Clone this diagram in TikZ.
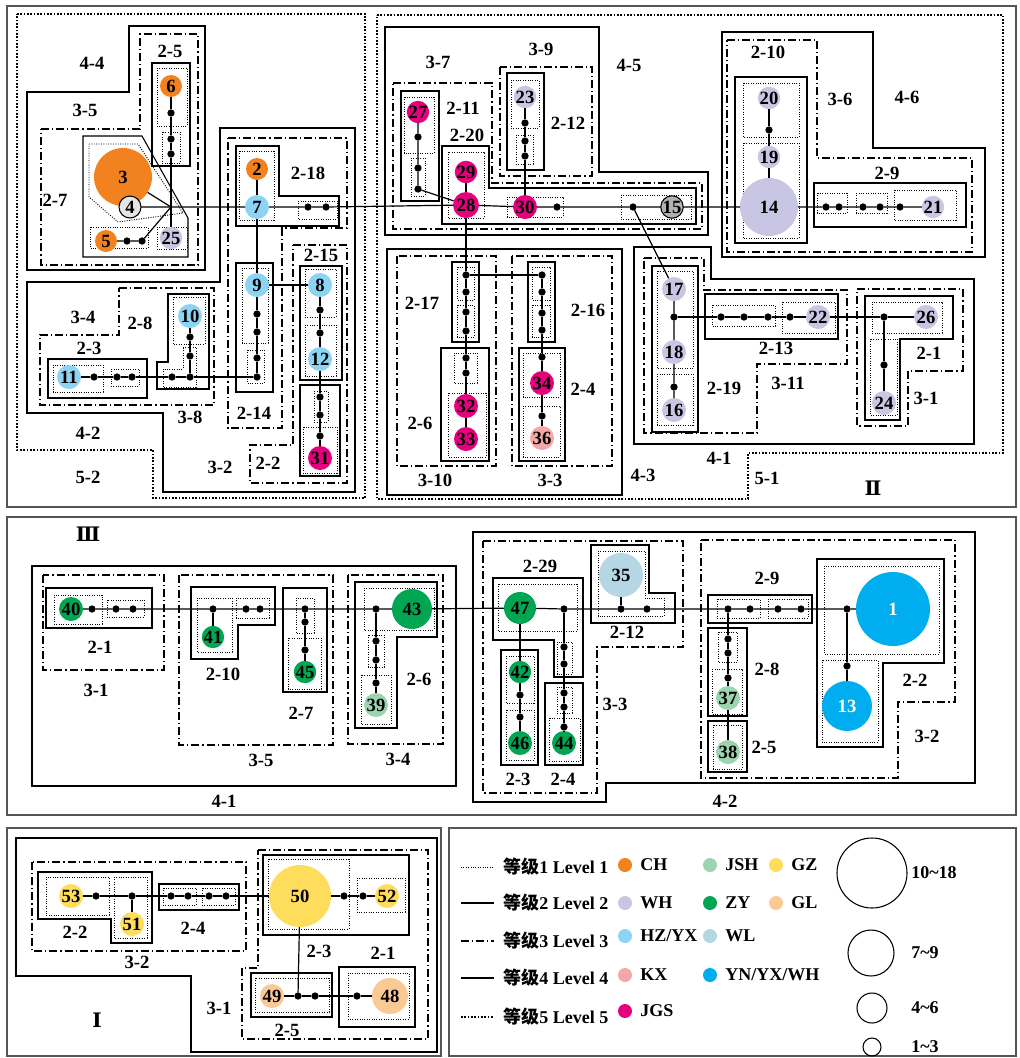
\documentclass[tikz,border=0pt]{standalone}
\usepackage{fontspec}
\setmainfont{Liberation Serif}
\newfontfamily\cjk{Noto Sans CJK SC}
\newfontfamily\romf{DejaVu Serif}
\newcommand\labf{\fontsize{14}{15}\selectfont\bfseries}
\newcommand\numf{\fontsize{14}{15}\selectfont\bfseries}
\newcommand\legf{\fontsize{13.5}{15}\selectfont\bfseries}
\definecolor{cCH}{HTML}{F28220}
\definecolor{cWH}{HTML}{C8C6E2}
\definecolor{cHZ}{HTML}{8DD3F4}
\definecolor{cKX}{HTML}{F4A7A7}
\definecolor{cJGS}{HTML}{E6007E}
\definecolor{cJSH}{HTML}{9CD4B0}
\definecolor{cZY}{HTML}{00A651}
\definecolor{cWL}{HTML}{B4D7E3}
\definecolor{cYN}{HTML}{00AEEF}
\definecolor{cGZ}{HTML}{FFDD5C}
\definecolor{cGL}{HTML}{FBC994}
\definecolor{cPanel}{HTML}{555555}
\tikzset{
  lvone/.style={line width=0.7pt, dash pattern=on 0.7pt off 1.1pt},
  lvtwo/.style={line width=0.8pt},
  lvthree/.style={line width=0.8pt, dash pattern=on 6pt off 2.2pt on 1pt off 2.2pt},
  lvfour/.style={line width=1.8pt},
  lvfive/.style={line width=1.6pt, dash pattern=on 1.3pt off 1.2pt},
  panel/.style={line width=1pt, draw=cPanel},
  conn/.style={line width=0.9pt},
  jdot/.style={circle,fill=black,inner sep=0pt,outer sep=0pt,minimum size=5.5pt},
  cn/.style={circle,inner sep=0pt,outer sep=0pt,minimum size=#1*1.5pt,font=\numf},
  rlab/.style={font=\labf,inner sep=0pt},
  legt/.style={font=\legf,inner sep=0pt,anchor=west},
}
\begin{document}
\begin{tikzpicture}[x=0.75pt,y=-0.75pt]
\useasboundingbox (0,0) rectangle (1020,1058);
% panels
\draw[panel] (7,6) rectangle (1016,507);
\draw[panel] (7,517) rectangle (1016,815);
\draw[panel] (7,828) rectangle (441,1056);
\draw[panel] (449,828) rectangle (1016,1056);

%================ TOP PANEL =================
% 5-2
\draw[lvfive] (17,14) -- (365,14) -- (365,498) -- (153,498) -- (153,450) -- (17,450) -- cycle;
% 4-4
\draw[lvfour] (27,92) -- (129,92) -- (129,26) -- (205,26) -- (205,270) -- (27,270) -- cycle;
\draw[lvthree] (41,129) -- (140,129) -- (140,34) -- (198,34) -- (198,265) -- (41,265) -- cycle;
\draw[lvtwo] (152,63) rectangle (190,166);
\draw[lvone] (157,68) rectangle (187,126);
\draw[lvone] (162,132) rectangle (180,163);
\draw[lvtwo] (83,136) -- (142,136) -- (188,218) -- (188,257) -- (83,257) -- cycle;
\draw[lvone] (89,144) -- (138,144) -- (183,213) -- (118,222) -- (89,197) -- cycle;
\draw[lvone] (90,227) rectangle (148,248);
\draw[lvone] (157,227) rectangle (187,249);
% 4-2
\draw[lvfour] (220,128) -- (355,128) -- (355,492) -- (163,492) -- (163,413) -- (27,413) -- (27,282) -- (220,282) -- cycle;
\draw[lvthree] (228,138) -- (347,138) -- (347,228) -- (282,228) -- (282,428) -- (228,428) -- cycle;
\draw[lvthree] (293,245) -- (347,245) -- (347,483) -- (250,483) -- (250,445) -- (293,445) -- cycle;
\draw[lvtwo] (236,146) -- (279,146) -- (279,196) -- (339,196) -- (339,226) -- (236,226) -- cycle;
\draw[lvone] (239,151) rectangle (274,220);
\draw[lvone] (298,201) rectangle (337,219);
\draw[lvtwo] (236,263) rectangle (273,392);
\draw[lvone] (242,268) rectangle (268,343);
\draw[lvone] (247,350) rectangle (264,383);
\draw[lvtwo] (300,266) rectangle (342,380);
\draw[lvone] (305,269) rectangle (336,317);
\draw[lvone] (305,325) rectangle (336,376);
\draw[lvtwo] (300,385) rectangle (340,476);
\draw[lvone] (314,391) rectangle (328,422);
\draw[lvone] (303,427) rectangle (337,473);
\draw[lvthree] (119,288) -- (214,288) -- (214,405) -- (40,405) -- (40,335) -- (119,335) -- cycle;
\draw[lvtwo] (48,359) rectangle (147,398);
\draw[lvone] (53,365) rectangle (103,392);
\draw[lvone] (111,369) rectangle (139,386);
\draw[lvtwo] (168,294) -- (209,294) -- (209,389) -- (157,389) -- (157,362) -- (168,362) -- cycle;
\draw[lvone] (173,297) rectangle (205,344);
\draw[lvone] (183,347) -- (196,347) -- (196,387) -- (163,387) -- (163,369) -- (183,369) -- cycle;
% 5-1
\draw[lvfive] (377,15) -- (1003,15) -- (1003,453) -- (748,453) -- (748,499) -- (377,499) -- cycle;
% 4-5
\draw[lvfour] (385,27) -- (599,27) -- (599,172) -- (708,172) -- (708,235) -- (385,235) -- cycle;
\draw[lvthree] (393,83) -- (492,83) -- (492,183) -- (702,183) -- (702,229) -- (393,229) -- cycle;
\draw[lvthree] (500,67) rectangle (592,176);
\draw[lvtwo] (401,91) rectangle (439,201);
\draw[lvone] (404,97) rectangle (434,153);
\draw[lvone] (411,158) rectangle (425,196);
\draw[lvtwo] (442,146) -- (489,146) -- (489,188) -- (696,188) -- (696,224) -- (442,224) -- cycle;
\draw[lvone] (448,152) rectangle (484,218);
\draw[lvone] (507,197) rectangle (563,217);
\draw[lvone] (621,195) rectangle (691,219);
\draw[lvtwo] (507,73) rectangle (544,170);
\draw[lvone] (511,80) rectangle (539,128);
\draw[lvone] (516,135) rectangle (533,164);
% 4-6
\draw[lvfour] (722,32) -- (873,32) -- (873,148) -- (985,148) -- (985,257) -- (722,257) -- cycle;
\draw[lvthree] (727,40) -- (817,40) -- (817,158) -- (972,158) -- (972,252) -- (727,252) -- cycle;
\draw[lvtwo] (735,77) rectangle (807,243);
\draw[lvone] (743,83) rectangle (799,137);
\draw[lvone] (743,143) rectangle (799,238);
\draw[lvtwo] (814,183) rectangle (966,227);
\draw[lvone] (817,193) rectangle (847,213);
\draw[lvone] (856,193) rectangle (887,213);
\draw[lvone] (894,190) rectangle (956,220);
% 4-3
\draw[lvfour] (387,249) rectangle (622,495);
\draw[lvthree] (397,256) rectangle (496,466);
\draw[lvthree] (512,256) rectangle (612,466);
\draw[lvtwo] (452,262) rectangle (479,342);
\draw[lvone] (457,267) rectangle (474,300);
\draw[lvone] (457,305) rectangle (474,337);
\draw[lvtwo] (441,348) rectangle (489,461);
\draw[lvone] (454,353) rectangle (477,383);
\draw[lvone] (448,393) rectangle (486,457);
\draw[lvtwo] (528,262) rectangle (555,342);
\draw[lvone] (532,267) rectangle (550,300);
\draw[lvone] (532,305) rectangle (550,337);
\draw[lvtwo] (519,348) rectangle (565,461);
\draw[lvone] (523,353) rectangle (560,397);
\draw[lvone] (523,406) rectangle (560,457);
% 4-1 (top)
\draw[lvfour] (634,247) -- (711,247) -- (711,279) -- (974,279) -- (974,444) -- (634,444) -- cycle;
\draw[lvthree] (644,258) -- (704,258) -- (704,290) -- (847,290) -- (847,364) -- (757,364) -- (757,433) -- (644,433) -- cycle;
\draw[lvthree] (857,289) -- (963,289) -- (963,371) -- (908,371) -- (908,426) -- (857,426) -- cycle;
\draw[lvtwo] (652,266) rectangle (698,432);
\draw[lvone] (657,271) rectangle (693,368);
\draw[lvone] (657,374) rectangle (693,425);
\draw[lvtwo] (705,294) rectangle (838,339);
\draw[lvone] (712,305) rectangle (775,326);
\draw[lvone] (782,302) rectangle (835,333);
\draw[lvtwo] (865,296) -- (953,296) -- (953,339) -- (900,339) -- (900,420) -- (865,420) -- cycle;
\draw[lvone] (872,302) rectangle (942,333);
\draw[lvone] (870,339) rectangle (897,415);

%================ MIDDLE PANEL =================
\draw[lvfour] (32,566) rectangle (456,786);
\draw[lvthree] (43,575) rectangle (164,670);
\draw[lvtwo] (46,588) rectangle (152,628);
\draw[lvone] (54,595) rectangle (102,624);
\draw[lvone] (107,600) rectangle (144,617);
\draw[lvthree] (179,575) rectangle (333,745);
\draw[lvtwo] (191,587) -- (275,587) -- (275,625) -- (238,625) -- (238,659) -- (191,659) -- cycle;
\draw[lvone] (197,598) rectangle (232,652);
\draw[lvone] (236,598) rectangle (269,618);
\draw[lvtwo] (283,588) rectangle (327,692);
\draw[lvone] (296,598) rectangle (314,633);
\draw[lvone] (288,638) rectangle (321,689);
\draw[lvthree] (348,575) rectangle (443,744);
\draw[lvtwo] (355,582) -- (437,582) -- (437,637) -- (397,637) -- (397,728) -- (355,728) -- cycle;
\draw[lvone] (364,588) rectangle (434,630);
\draw[lvone] (368,635) rectangle (384,667);
\draw[lvone] (361,675) rectangle (391,724);
\draw[lvfour] (473,532) -- (975,532) -- (975,783) -- (606,783) -- (606,802) -- (473,802) -- cycle;
\draw[lvthree] (483,541) -- (683,541) -- (683,647) -- (597,647) -- (597,793) -- (483,793) -- cycle;
\draw[lvtwo] (493,578) -- (583,578) -- (583,677) -- (554,677) -- (554,640) -- (493,640) -- cycle;
\draw[lvone] (498,584) rectangle (577,631);
\draw[lvone] (557,642) rectangle (572,674);
\draw[lvtwo] (501,650) rectangle (538,765);
\draw[lvone] (506,656) rectangle (534,703);
\draw[lvone] (506,710) rectangle (534,760);
\draw[lvtwo] (545,683) rectangle (583,765);
\draw[lvone] (557,687) rectangle (572,713);
\draw[lvone] (549,718) rectangle (580,761);
\draw[lvtwo] (591,545) -- (649,545) -- (649,593) -- (675,593) -- (675,623) -- (591,623) -- cycle;
\draw[lvone] (598,551) -- (645,551) -- (645,598) -- (664,598) -- (664,616) -- (598,616) -- cycle;
\draw[lvthree] (701,540) -- (955,540) -- (955,702) -- (898,702) -- (898,778) -- (701,778) -- cycle;
\draw[lvtwo] (708,595) rectangle (812,623);
\draw[lvone] (717,599) rectangle (760,618);
\draw[lvone] (768,599) rectangle (808,618);
\draw[lvtwo] (708,628) rectangle (747,716);
\draw[lvone] (718,632) rectangle (737,662);
\draw[lvone] (712,669) rectangle (742,714);
\draw[lvtwo] (708,721) rectangle (747,772);
\draw[lvone] (713,725) rectangle (742,769);
\draw[lvtwo] (817,559) -- (944,559) -- (944,663) -- (883,663) -- (883,747) -- (817,747) -- cycle;
\draw[lvone] (824,566) rectangle (939,654);
\draw[lvone] (822,660) rectangle (878,742);

%================ BOTTOM-LEFT PANEL =================
\draw[lvfour] (16,838) -- (437,838) -- (437,1052) -- (191,1052) -- (191,976) -- (16,976) -- cycle;
\draw[lvthree] (32,862) rectangle (246,951);
\draw[lvthree] (258,850) -- (428,850) -- (428,1039) -- (242,1039) -- (242,968) -- (258,968) -- cycle;
\draw[lvtwo] (38,872) -- (152,872) -- (152,943) -- (111,943) -- (111,919) -- (38,919) -- cycle;
\draw[lvone] (46,877) rectangle (109,915);
\draw[lvone] (114,877) rectangle (147,938);
\draw[lvtwo] (159,884) rectangle (239,910);
\draw[lvone] (163,888) rectangle (196,905);
\draw[lvone] (202,888) rectangle (235,905);
\draw[lvtwo] (263,855) rectangle (409,935);
\draw[lvone] (268,859) rectangle (349,929);
\draw[lvone] (357,878) rectangle (405,912);
\draw[lvtwo] (251,973) rectangle (332,1017);
\draw[lvone] (255,978) rectangle (329,1012);
\draw[lvtwo] (339,967) rectangle (415,1027);
\draw[lvone] (348,973) rectangle (409,1019);

%================ NODES =================
\node[cn=37,fill=cYN,text=white] (n1) at (893,609) {1};
\node[cn=11,fill=cCH] (n2) at (257,169) {2};
\node[cn=29,fill=cCH] (n3) at (123,177) {3};
\node[cn=11,fill=black!10,draw=black,line width=0.8pt] (n4) at (130,207) {4};
\node[cn=11,fill=cCH] (n5) at (106,241) {5};
\node[cn=11,fill=cCH] (n6) at (171,86) {6};
\node[cn=12,fill=cHZ] (n7) at (257,207) {7};
\node[cn=12,fill=cHZ] (n8) at (320,285) {8};
\node[cn=12,fill=cHZ] (n9) at (257,285) {9};
\node[cn=12,fill=cHZ] (n10) at (190,316) {10};
\node[cn=12,fill=cHZ] (n11) at (69,377) {11};
\node[cn=12,fill=cHZ] (n12) at (320,359) {12};
\node[cn=25,fill=cYN,text=white] (n13) at (847,706) {13};
\node[cn=29,fill=cWH] (n14) at (769,207) {14};
\node[cn=11,fill=black!30,draw=black,line width=0.8pt] (n15) at (672,207) {15};
\node[cn=12,fill=cWH] (n16) at (674,410) {16};
\node[cn=12,fill=cWH] (n17) at (674,289) {17};
\node[cn=12,fill=cWH] (n18) at (674,352) {18};
\node[cn=11,fill=cWH] (n19) at (769,157) {19};
\node[cn=11,fill=cWH] (n20) at (769,98) {20};
\node[cn=11,fill=cWH] (n21) at (933,207) {21};
\node[cn=12,fill=cWH] (n22) at (818,317) {22};
\node[cn=11,fill=cWH] (n23) at (525,97) {23};
\node[cn=12,fill=cWH] (n24) at (884,403) {24};
\node[cn=11,fill=cWH] (n25) at (171,238) {25};
\node[cn=12,fill=cWH] (n26) at (926,317) {26};
\node[cn=11,fill=cJGS] (n27) at (418,112) {27};
\node[cn=13,fill=cJGS] (n28) at (466,205) {28};
\node[cn=11,fill=cJGS] (n29) at (466,172) {29};
\node[cn=12,fill=cJGS] (n30) at (525,207) {30};
\node[cn=12,fill=cJGS] (n31) at (320,458) {31};
\node[cn=12,fill=cJGS] (n32) at (466,406) {32};
\node[cn=12,fill=cJGS] (n33) at (466,439) {33};
\node[cn=12,fill=cJGS] (n34) at (542,383) {34};
\node[cn=22,fill=cWL] (n35) at (621,575) {35};
\node[cn=12,fill=cKX] (n36) at (542,438) {36};
\node[cn=12,fill=cJSH] (n37) at (728,698) {37};
\node[cn=12,fill=cJSH] (n38) at (728,752) {38};
\node[cn=12,fill=cJSH] (n39) at (376,705) {39};
\node[cn=12,fill=cZY] (n40) at (71,609) {40};
\node[cn=11,fill=cZY] (n41) at (213,637) {41};
\node[cn=11,fill=cZY] (n42) at (520,672) {42};
\node[cn=20,fill=cZY] (n43) at (412,609) {43};
\node[cn=12,fill=cZY] (n44) at (564,743) {44};
\node[cn=11,fill=cZY] (n45) at (305,672) {45};
\node[cn=12,fill=cZY] (n46) at (520,743) {46};
\node[cn=16,fill=cZY] (n47) at (520,608) {47};
\node[cn=18,fill=cGL] (n48) at (390,996) {48};
\node[cn=12,fill=cGL] (n49) at (272,996) {49};
\node[cn=31,fill=cGZ] (n50) at (300,896) {50};
\node[cn=12,fill=cGZ] (n51) at (132,924) {51};
\node[cn=12,fill=cGZ] (n52) at (387,896) {52};
\node[cn=12,fill=cGZ] (n53) at (71,896) {53};

% dots
\coordinate (J) at (171,207);
\foreach \nm/\px/\py in {a1/171/113,a2/171/139,a3/171/154,a4/127/241,a5/142/241,
  b1/308/207,b2/326/207,c1/257/314,c2/257/332,c3/257/358,c4/257/377,
  d1/94/377,d2/117/377,d3/132/377,d4/172/377,d5/190/377,d6/190/337,d7/190/356,
  e1/320/310,e2/320/333,e3/320/397,e4/320/415,e5/320/436,
  f1/418/137,f2/418/168,f3/418/189,g1/525/123,g2/525/141,g3/525/156,
  h1/557/207,h2/633/207,
  i1/466/275,i2/466/292,i3/466/312,i4/466/331,i5/466/358,i6/466/373,
  k1/542/275,k2/542/292,k3/542/313,k4/542/330,k5/542/357,k6/542/416,
  m1/769/130,m2/826/207,m3/839/207,m4/863/207,m5/880/207,m6/900/207,
  p1/674/317,p2/674/387,p3/721/317,p4/744/317,p5/768/317,p6/790/317,p7/884/317,p8/884/365,
  q1/92/609,q2/116/609,q3/133/609,q4/213/609,q5/246/609,q6/260/609,q7/305/609,q8/305/622,q9/305/650,
  q10/376/609,q11/376/641,q12/376/660,q13/376/683,
  r1/564/609,r2/564/647,r3/564/664,r4/564/693,r5/564/707,r6/564/727,r7/520/695,r8/520/717,r9/621/609,r10/647/609,
  s1/728/609,s2/750/609,s3/778/609,s4/801/609,s5/728/639,s6/728/653,s7/728/678,s8/847/609,s9/847/666,
  t1/96/896,t2/132/896,t3/171/896,t4/188/896,t5/209/896,t6/226/896,t7/344/896,t8/363/896,
  u1/298/996,u2/315/996,u3/357/996}
  {\node[jdot] (\nm) at (\px,\py) {};}

% connectors
\draw[conn] (n6) -- (a1) -- (a2) -- (a3) -- (J) -- (n25);
\draw[conn] (n3) -- (J);
\draw[conn] (n5) -- (a4) -- (a5) -- (J);
\draw[conn] (n4) -- (J) -- (n7) -- (b1) -- (b2) -- (n28) -- (n30) -- (h1) -- (h2) -- (n15) -- (n14) -- (m2) -- (m3) -- (m4) -- (m5) -- (m6) -- (n21);
\draw[conn] (n2) -- (n7) -- (n9) -- (c1) -- (c2) -- (c3) -- (c4);
\draw[conn] (n9) -- (n8) -- (e1) -- (e2) -- (n12) -- (e3) -- (e4) -- (e5) -- (n31);
\draw[conn] (n11) -- (d1) -- (d2) -- (d3) -- (d4) -- (d5) -- (c4);
\draw[conn] (n10) -- (d6) -- (d7) -- (d5);
\draw[conn] (n27) -- (f1) -- (f2) -- (f3) -- (n28);
\draw[conn] (n29) -- (n28) -- (i1) -- (i2) -- (i3) -- (i4) -- (i5) -- (i6) -- (n32) -- (n33);
\draw[conn] (i1) -- (k1) -- (k2) -- (k3) -- (k4) -- (k5) -- (n34) -- (k6) -- (n36);
\draw[conn] (n23) -- (g1) -- (g2) -- (g3) -- (n30);
\draw[conn] (n20) -- (m1) -- (n19) -- (n14);
\draw[conn] (h2) -- (n17) -- (p1) -- (n18) -- (p2) -- (n16);
\draw[conn] (p1) -- (p3) -- (p4) -- (p5) -- (p6) -- (n22) -- (p7) -- (n26);
\draw[conn] (p7) -- (p8) -- (n24);
\draw[conn] (n40) -- (q1) -- (q2) -- (q3) -- (q4) -- (q5) -- (q6) -- (q7) -- (q10) -- (n43) -- (n47) -- (r1) -- (r9) -- (r10) -- (s1) -- (s2) -- (s3) -- (s4) -- (s8) -- (n1);
\draw[conn] (q4) -- (n41);
\draw[conn] (q7) -- (q8) -- (q9) -- (n45);
\draw[conn] (q10) -- (q11) -- (q12) -- (q13) -- (n39);
\draw[conn] (n47) -- (n42) -- (r7) -- (r8) -- (n46);
\draw[conn] (r1) -- (r2) -- (r3) -- (r4) -- (r5) -- (r6) -- (n44);
\draw[conn] (n35) -- (r9);
\draw[conn] (s1) -- (s5) -- (s6) -- (s7) -- (n37) -- (n38);
\draw[conn] (s8) -- (s9) -- (n13);
\draw[conn] (n53) -- (t1) -- (t2) -- (t3) -- (t4) -- (t5) -- (t6) -- (n50) -- (t7) -- (t8) -- (n52);
\draw[conn] (t2) -- (n51);
\draw[conn] (n50) -- (u1);
\draw[conn] (n49) -- (u1) -- (u2) -- (u3) -- (n48);

% region labels
\foreach \nm/\px/\py/\tx in {
  la1/92/63/4-4, la2/85/110/3-5, la3/170/51/2-5, la4/55/200/2-7, la5/308/173/2-18,
  la6/321/255/2-15, la7/254/413/2-14, la8/268/463/2-2, la9/220/467/3-2, la10/83/317/3-4,
  la11/140/323/2-8, la12/89/348/2-3, la13/190/417/3-8, la14/88/433/4-2, la15/88/477/5-2,
  la16/438/62/3-7, la17/541/49/3-9, la18/629/65/4-5, la19/463/108/2-11, la20/467/135/2-20,
  la21/568/123/2-12, la22/768/52/2-10, la23/840/99/3-6, la24/907/97/4-6, la25/887/173/2-9,
  la26/422/303/2-17, la27/420/423/2-6, la28/435/480/3-10, la29/550/480/3-3, la30/588/310/2-16,
  la31/583/389/2-4, la32/643/475/4-3, la33/724/388/2-19, la34/776/348/2-13, la35/788/383/3-11,
  la36/929/353/2-1, la37/926/398/3-1, la38/719/458/4-1, la39/767/478/5-1,
  lb1/100/647/2-1, lb2/96/690/3-1, lb3/223/674/2-10, lb4/301/713/2-7, lb5/261/760/3-5,
  lb6/419/679/2-6, lb7/398/759/3-4, lb8/224/801/4-1, lb9/540/566/2-29, lb10/627/632/2-12,
  lb11/518/779/2-3, lb12/563/779/2-4, lb13/615/704/3-3, lb14/767/578/2-9, lb15/767/669/2-8,
  lb16/764/747/2-5, lb17/915/680/2-2, lb18/927/736/3-2, lb19/725/801/4-2,
  lc1/75/932/2-2, lc2/193/928/2-4, lc3/137/962/3-2, lc4/319/951/2-3, lc5/383/953/2-1,
  lc6/219/1008/3-1, lc7/287/1030/2-5}
  {\node[rlab] (\nm) at (\px,\py) {\tx};}
\node[font=\romf\bfseries\fontsize{15}{16}\selectfont,inner sep=0pt] (rII) at (873,488) {Ⅱ};
\node[font=\romf\bfseries\fontsize{15}{16}\selectfont,inner sep=0pt] (rIII) at (88,534) {Ⅲ};
\node[font=\romf\bfseries\fontsize{15}{16}\selectfont,inner sep=0pt] (rI) at (97,1020) {Ⅰ};

%================ LEGEND =================
\draw[lvone] (461,867) -- (494,867);
\draw[lvtwo] (461,903) -- (494,903);
\draw[lvthree] (461,941) -- (494,941);
\draw[lvfour] (461,978) -- (494,978);
\draw[lvfive] (461,1017) -- (494,1017);
\node[legt] (g1t) at (503,867) {{\cjk 等级}1 Level 1};
\node[legt] (g2t) at (503,903) {{\cjk 等级}2 Level 2};
\node[legt] (g3t) at (503,941) {{\cjk 等级}3 Level 3};
\node[legt] (g4t) at (503,978) {{\cjk 等级}4 Level 4};
\node[legt] (g5t) at (503,1017) {{\cjk 等级}5 Level 5};
\foreach \nm/\px/\py/\col/\tx in {kCH/625/865/cCH/CH, kWH/625/903/cWH/WH, kHZ/625/936/cHZ/HZ\slash YX,
  kKX/625/975/cKX/KX, kJGS/625/1011/cJGS/JGS, kJSH/710/865/cJSH/JSH, kZY/710/903/cZY/ZY,
  kWL/710/936/cWL/WL, kYN/710/975/cYN/YN\slash YX\slash WH, kGZ/776/865/cGZ/GZ, kGL/776/903/cGL/GL}
  {\node[cn=7,fill=\col] (\nm) at (\px,\py) {};
   \node[legt] (\nm t) at (\px+15,\py) {\tx};}
\node[cn=35,draw,line width=0.8pt] (sz1) at (872,873) {};
\node[cn=23,draw,line width=0.8pt] (sz2) at (871,953) {};
\node[cn=15,draw,line width=0.8pt] (sz3) at (872,1008) {};
\node[cn=9,draw,line width=0.8pt] (sz4) at (872,1047) {};
\node[legt] (sz1t) at (911,873) {10\textasciitilde18};
\node[legt] (sz2t) at (911,953) {7\textasciitilde9};
\node[legt] (sz3t) at (911,1008) {4\textasciitilde6};
\node[legt] (sz4t) at (911,1047) {1\textasciitilde3};
\end{tikzpicture}
\end{document}
